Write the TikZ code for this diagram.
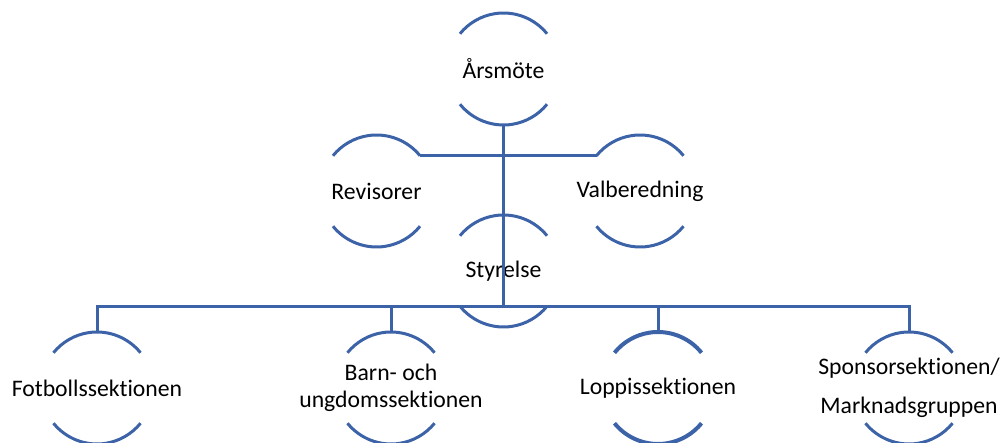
\documentclass[tikz,border=0pt]{standalone}
\usepackage{fontspec}
\setmainfont[Ligatures={NoCommon}]{Carlito}
\definecolor{orgblue}{RGB}{60,98,168}
\newcommand\arcpair[2][3]{%
  \draw[orgblue,line width=#1] ([shift={(39:56)}]#2.center) arc[start angle=39,end angle=141,radius=56];
  \draw[orgblue,line width=#1] ([shift={(219:56)}]#2.center) arc[start angle=219,end angle=321,radius=56];
}
\begin{document}
\begin{tikzpicture}[x=1pt,y=1pt,
  lbl/.style={inner sep=0pt,font=\fontsize{23.7}{27}\selectfont,align=center,text=black},
  conn/.style={draw=orgblue,line width=3}]
\useasboundingbox (0,0) rectangle (1003,443);
% nodes
\node[lbl] (ars) at (503.5,374) {Årsmöte};
\node[lbl] (rev) at (376.5,252) {Revisorer};
\node[lbl] (val) at (640,252) {Valberedning};
\node[lbl] (sty) at (503.5,172) {Styrelse};
\node[lbl] (fot) at (97,55) {Fotbollssektionen};
\node[lbl] (bar) at (391,55) {Barn- och\\ungdomssektionen};
\node[lbl] (lop) at (658,55) {Loppissektionen};
\node[lbl] (spo) at (909,55) {Sponsorsektionen/\\[12pt]Marknadsgruppen};
% arcs
\arcpair{ars}
\arcpair{rev}
\arcpair{val}
\arcpair{sty}
\arcpair{fot}
\arcpair{bar}
\arcpair[4]{lop}
\arcpair{spo}
% connector points
\coordinate (busl) at ([shift={(0,-36)}]sty.center);
\coordinate (arsb) at ([shift={(0,-56)}]ars.center);
\coordinate (asl) at ([shift={(43.5,35)}]rev.center);
\coordinate (asr) at ([shift={(-43.5,35)}]val.center);
\coordinate (fott) at ([shift={(0,56)}]fot.center);
\coordinate (bart) at ([shift={(0,56)}]bar.center);
\coordinate (lopt) at ([shift={(0,56)}]lop.center);
\coordinate (spot) at ([shift={(0,56)}]spo.center);
% connectors
\draw[conn] (arsb) -- (busl);
\draw[conn] (asl) -- (asr);
\draw[conn] (fott) |- (busl) -| (spot);
\draw[conn] (bart) -- (bart |- busl);
\draw[conn] (lopt) -- (lopt |- busl);
\end{tikzpicture}
\end{document}
